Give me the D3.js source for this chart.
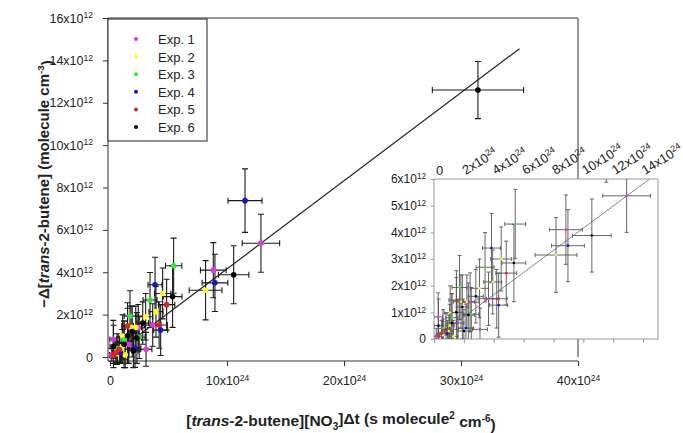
<!DOCTYPE html>
<html><head><meta charset="utf-8">
<script src="https://cdn.jsdelivr.net/npm/d3@7"></script>
<style>
body{margin:0;background:#fff;}
svg{display:block;font-family:"Liberation Sans",Arial,sans-serif;}
</style></head>
<body><svg id="chart" width="683" height="433"></svg>
<script>
// ---- data: [x (1e24), y (1e12), xErr, yErr] ----
const experiments = ["Exp. 1","Exp. 2","Exp. 3","Exp. 4","Exp. 5","Exp. 6"];
const exp1 = [[12.9,5.37,1.6,1.37],[8.83,4.1,1.1,1.3],[3.65,1.51,0.7,1.0],[2.42,1.38,0.6,1.1],[3.08,0.36,0.5,0.8],[0.28,0.83,0.3,0.9],[0.15,0.1,0.2,0.3],[0.6,0.25,0.3,0.5],[1.6,0.6,0.4,0.9]];
const exp2 = [[8.17,3.15,1.4,1.4],[4.5,3.0,0.7,1.2],[3.93,2.14,0.6,1.2],[3.05,1.9,0.6,1.1],[2.2,1.4,0.5,1.0],[1.8,1.4,0.5,1.0],[1.08,0.99,0.4,1.0],[1.05,0.5,0.3,0.8],[0.6,0.15,0.3,0.5],[1.3,0.1,0.3,0.6],[1.0,0.3,0.3,0.6]];
const exp3 = [[5.44,4.31,0.7,1.3],[3.42,2.69,0.6,1.3],[1.71,1.93,0.5,1.2],[2.5,0.93,0.5,1.0],[1.2,0.8,0.4,0.9],[0.6,0.4,0.3,0.7]];
const exp4 = [[11.54,7.38,1.45,1.5],[8.97,3.5,1.1,1.35],[3.85,3.41,0.6,1.3],[4.33,1.27,0.6,1.2],[2.14,0.41,0.5,0.9],[0.9,0.2,0.3,0.5]];
const exp5 = [[4.84,2.47,0.7,1.2],[4.2,1.51,0.7,1.1],[1.5,1.46,0.5,1.1],[0.5,0.2,0.3,0.5],[0.3,0.1,0.2,0.4],[0.8,0.35,0.3,0.6]];
const exp6 = [[31.45,12.6,3.9,1.35],[10.57,3.88,1.3,1.37],[5.35,2.85,0.8,1.45],[1.9,1.2,0.4,1.2],[1.5,1.0,0.4,1.3],[2.3,0.9,0.4,1.2],[2.8,1.6,0.5,1.0],[1.2,0.6,0.4,1.1],[0.3,0.5,0.3,1.0],[2.0,0.3,0.4,0.8]];
const fitLine = [[0,0],[35,14.55]];
const mainXTicks = [0,10,20,30,40];
const mainYTicks = [0,2,4,6,8,10,12,14,16];
const insetXTicks = [0,2,4,6,8,10,12,14];
const insetYTicks = [0,1,2,3,4,5,6];
const xExp = "24", yExp = "12";

const colors = ["#e035e0","#ffff1a","#33e633","#1414cc","#e02020","#000000"];
const series = [exp1,exp2,exp3,exp4,exp5,exp6];
const all = [];
series.forEach((s,i)=>s.forEach(p=>all.push({x:p[0],y:p[1],xe:p[2],ye:p[3],c:colors[i]})));

const svg = d3.select("#chart");
const FF = "'Liberation Sans',Arial,sans-serif";

function fmt(sel, exp){
  sel.each(function(d){
    const t=d3.select(this); t.text(null);
    if(d===0){t.text("0");return;}
    t.append("tspan").text(d+"x10");
    t.append("tspan").attr("dy","-0.5em").attr("font-size","0.68em").text(exp);
  });
}

// ---- main scales ----
const x = d3.scaleLinear().domain([0,40]).range([110,578]);
const y = d3.scaleLinear().domain([0,16]).range([357,18]);

// frame (top + right)
svg.append("path").attr("d",`M108,${y(16)}H${x(40)}V${y(0)}`).attr("fill","none").attr("stroke","#333").attr("stroke-width",1);

// axes
const gy = svg.append("g").attr("transform","translate(108,0)")
  .call(d3.axisLeft(y).tickValues(mainYTicks).tickSize(5).tickPadding(10).tickSizeOuter(0));
gy.select(".domain").attr("d",`M0,${y(16)}V361`).attr("stroke","#333");
gy.selectAll(".tick line").attr("stroke","#333");
gy.selectAll(".tick text").attr("font-size","12.5px").attr("fill","#222").attr("font-family",FF).call(fmt,yExp);

const gx = svg.append("g").attr("transform","translate(0,361)")
  .call(d3.axisBottom(x).tickValues(mainXTicks).tickSize(5).tickPadding(10).tickSizeOuter(0));
gx.select(".domain").attr("d",`M108,0H${x(40)}`).attr("stroke","#333");
gx.selectAll(".tick line").attr("stroke","#333");
gx.selectAll(".tick text").attr("font-size","12.5px").attr("fill","#222").attr("font-family",FF).call(fmt,xExp);

// fit line
svg.append("line").attr("x1",x(fitLine[0][0])).attr("y1",y(fitLine[0][1]))
  .attr("x2",x(fitLine[1][0])).attr("y2",y(fitLine[1][1])).attr("stroke","#222").attr("stroke-width",1.2);

// error bars
function errorBars(g, xs, ys, data, stroke, sw, cap){
  const eb = g.append("g").attr("stroke",stroke).attr("stroke-width",sw).attr("fill","none");
  data.forEach(d=>{
    const cx=xs(d.x), cy=ys(d.y);
    const x0=xs(d.x-d.xe), x1=xs(d.x+d.xe), y0=ys(d.y-d.ye), y1=ys(d.y+d.ye);
    eb.append("path").attr("d",
      `M${cx},${y0}V${y1}M${cx-cap},${y0}H${cx+cap}M${cx-cap},${y1}H${cx+cap}`+
      `M${x0},${cy}H${x1}M${x0},${cy-cap}V${cy+cap}M${x1},${cy-cap}V${cy+cap}`);
  });
}
const gm = svg.append("g");
errorBars(gm, x, y, all, "#1a1a1a", 1.1, 3);
gm.selectAll("circle").data(all).join("circle")
  .attr("cx",d=>x(d.x)).attr("cy",d=>y(d.y)).attr("r",2.8).attr("fill",d=>d.c);

// legend
svg.append("rect").attr("x",108).attr("y",y(16)+1).attr("width",99).attr("height",122)
  .attr("fill","#fff").attr("stroke","#222").attr("stroke-width",1);
experiments.forEach((e,i)=>{
  const ly = 39 + i*17.6;
  svg.append("circle").attr("cx",136).attr("cy",ly).attr("r",2).attr("fill",colors[i]);
  svg.append("text").attr("x",158).attr("y",ly+5).attr("font-size","13px").attr("fill","#222").text(e);
});

// axis titles
const yt = svg.append("text").attr("transform","translate(49,184) rotate(-90)")
  .attr("text-anchor","middle").attr("font-size","15px").attr("font-weight","bold").attr("fill","#222");
yt.append("tspan").text("\u2212\u0394[");
yt.append("tspan").attr("font-style","italic").text("trans");
yt.append("tspan").text("-2-butene] (molecule cm");
yt.append("tspan").attr("dy","-0.5em").attr("font-size","0.65em").text("-3");
yt.append("tspan").attr("dy","0.5em").text(")");

const xt = svg.append("text").attr("x",341).attr("y",426)
  .attr("text-anchor","middle").attr("font-size","15.5px").attr("font-weight","bold").attr("fill","#222");
xt.append("tspan").text("[");
xt.append("tspan").attr("font-style","italic").text("trans");
xt.append("tspan").text("-2-butene][NO");
xt.append("tspan").attr("dy","0.35em").attr("font-size","0.65em").text("3");
xt.append("tspan").attr("dy","-0.35em").text("]\u0394t (s molecule");
xt.append("tspan").attr("dy","-0.5em").attr("font-size","0.65em").text("2");
xt.append("tspan").attr("dy","0.5em").text(" cm");
xt.append("tspan").attr("dy","-0.5em").attr("font-size","0.65em").text("-6");
xt.append("tspan").attr("dy","0.5em").text(")");

// ---- inset ----
const ix = d3.scaleLinear().domain([0,15]).range([434,658]);
const iy = d3.scaleLinear().domain([0,6]).range([339,179]);
svg.append("rect").attr("x",ix(0)).attr("y",iy(6)).attr("width",ix(15)-ix(0)).attr("height",iy(0)-iy(6))
  .attr("fill","#fff").attr("stroke","#999").attr("stroke-width",1);
svg.append("clipPath").attr("id","ic").append("rect")
  .attr("x",ix(0)).attr("y",iy(6)).attr("width",ix(15)-ix(0)).attr("height",iy(0)-iy(6));
const gi = svg.append("g").attr("clip-path","url(#ic)");
gi.append("line").attr("x1",ix(fitLine[0][0])).attr("y1",iy(fitLine[0][1]))
  .attr("x2",ix(fitLine[1][0])).attr("y2",iy(fitLine[1][1])).attr("stroke","#888").attr("stroke-width",1);
errorBars(gi, ix, iy, all, "#555", 0.9, 2);
gi.selectAll("circle").data(all).join("circle")
  .attr("cx",d=>ix(d.x)).attr("cy",d=>iy(d.y)).attr("r",1.3).attr("fill",d=>d.c);

const giy = svg.append("g").attr("transform",`translate(${ix(0)},0)`)
  .call(d3.axisLeft(iy).tickValues(insetYTicks).tickSize(3).tickPadding(5).tickSizeOuter(0));
giy.select(".domain").remove();
giy.selectAll(".tick line").attr("stroke","#999");
giy.selectAll(".tick text").attr("font-size","12px").attr("fill","#222").attr("font-family",FF).call(fmt,yExp);

const gix = svg.append("g").attr("transform",`translate(0,${iy(0)})`)
  .call(d3.axisBottom(ix).tickValues(insetXTicks).tickSize(4).tickFormat("").tickSizeOuter(0));
gix.select(".domain").remove();
gix.selectAll(".tick line").attr("stroke","#999");

svg.append("g").selectAll("text").data(insetXTicks).join("text")
  .attr("transform",d=>`translate(${ix(d)+2},${iy(6)-4}) rotate(${d===0?0:-32})`)
  .attr("font-size","13px").attr("fill","#222").call(fmt,xExp);
</script></body></html>
